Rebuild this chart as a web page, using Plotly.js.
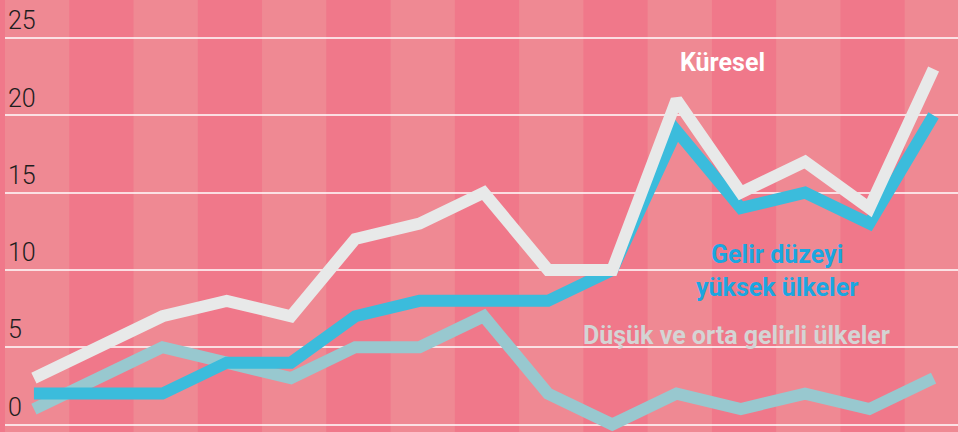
<!DOCTYPE html>
<html>
<head>
<meta charset="utf-8">
<script src="https://cdn.plot.ly/plotly-3.0.1.min.js"></script>
<style>html,body{margin:0;padding:0;background:#f0788a;}#chart{width:958px;height:432px;}</style>
</head>
<body>
<div id="chart"></div>
<script>
// Data (15 periods, no x labels shown in the reference)
var periods = [0,1,2,3,4,5,6,7,8,9,10,11,12,13,14];
var kuresel = [3,5,7,8,7,12,13,15,10,10,21,15,17,14,23];
var yuksek  = [2,2,2,4,4,7,8,8,8,10,19,14,15,13,20];
var dusuk   = [1,3,5,4,3,5,5,7,2,0,2,1,2,1,3];
var yTicks = [0,5,10,15,20,25];
var seriesNames = ["Küresel", "Gelir düzeyi<br>yüksek ülkeler", "Düşük ve orta gelirli ülkeler"];

var darkPink = "#f0788a";
var lightPink = "#ef8993";

var shapes = [];
periods.forEach(function(p, i){
  if (i % 2 === 0) {
    shapes.push({type:"rect", xref:"x", yref:"paper", x0:p-0.45, x1:p+0.55, y0:0, y1:1,
      fillcolor:lightPink, line:{width:0}, layer:"below"});
  }
});

var traces = [
  {x:periods, y:dusuk, mode:"lines", line:{color:"#98c8cf", width:12}, hoverinfo:"skip"},
  {x:periods, y:yuksek, mode:"lines", line:{color:"#3bbcdc", width:12}, hoverinfo:"skip"},
  {x:periods, y:kuresel, mode:"lines", line:{color:"#e8e9e9", width:12}, hoverinfo:"skip"}
];

var layout = {
  width:958, height:432,
  margin:{l:5, r:0, t:0, b:0},
  paper_bgcolor:darkPink, plot_bgcolor:darkPink,
  showlegend:false,
  xaxis:{range:[-0.45, 14.38], showgrid:false, zeroline:false, showticklabels:false, showline:false, ticks:""},
  yaxis:{range:[-0.485, 27.46], tickvals:yTicks, ticktext:yTicks.map(String),
    ticklabelposition:"inside top", showgrid:true, gridcolor:"rgba(255,255,255,0.75)", gridwidth:2,
    zeroline:false, showline:false, ticks:"",
    tickfont:{family:"Roboto", size:25, color:"#1e1e1e", weight:300}},
  shapes:shapes,
  annotations:[
    {x:10.72, y:23.4, xref:"x", yref:"y", text:"<b>"+seriesNames[0]+"</b>", showarrow:false,
     font:{family:"Roboto", size:25, color:"#ffffff"}},
    {x:11.57, y:9.9, xref:"x", yref:"y", text:"<b>"+seriesNames[1]+"</b>", showarrow:false,
     font:{family:"Roboto", size:25, color:"#1ba6e0"}},
    {x:10.93, y:5.75, xref:"x", yref:"y", text:"<b>"+seriesNames[2]+"</b>", showarrow:false,
     font:{family:"Roboto", size:25, color:"#d4d4d4"}}
  ]
};

Plotly.newPlot("chart", traces, layout, {staticPlot:true});
</script>
</body>
</html>
